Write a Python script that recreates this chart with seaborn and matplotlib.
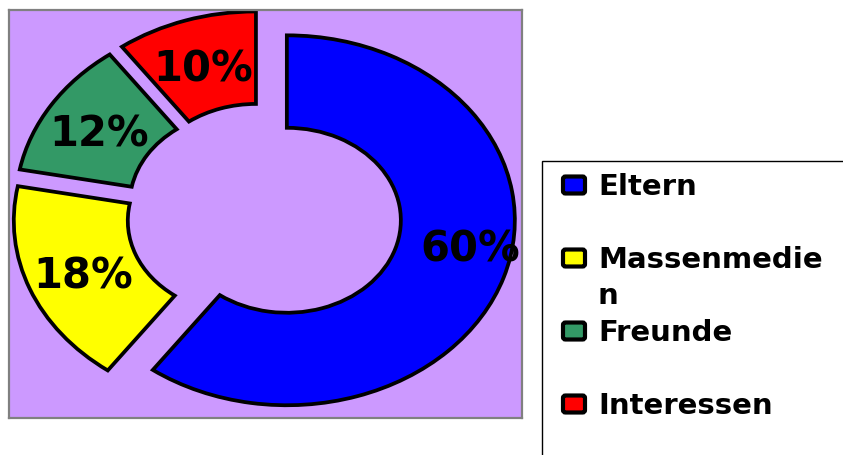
import textwrap

import matplotlib
matplotlib.use("Agg")
import matplotlib.pyplot as plt
from matplotlib.patches import FancyBboxPatch, Rectangle
from matplotlib.transforms import ScaledTranslation
import seaborn as sns

# Survey shares: where the information comes from
categories = ["Eltern", "Massenmedien", "Freunde", "Interessen"]
shares = [60, 18, 12, 10]
colors = ["#0000FF", "#FFFF00", "#339966", "#FF0000"]
explode = [0.11, 0.1, 0.1, 0.1]

sns.set_theme(style="white")
plt.rcParams["font.family"] = ["DejaVu Sans"]

W, H = 843, 455
fig = plt.figure(figsize=(W / 100, H / 100), dpi=100, facecolor="white")

# plot area (pixel box: x 9..522, y 10..418)
ax = fig.add_axes([9 / W, (H - 418) / H, 513 / W, 408 / H])
ax.set_facecolor("#CC99FF")

wedges, texts, autotexts = ax.pie(
    shares,
    colors=colors,
    explode=explode,
    startangle=90,
    counterclock=False,
    autopct=lambda p: f"{p:.0f}%",
    pctdistance=0.75,
    wedgeprops=dict(width=0.5, edgecolor="black", linewidth=2.7),
    textprops=dict(fontsize=30, fontweight="bold", color="black"),
    frame=True,
)
# the largest share's label sits further out along the ring
autotexts[0].set_position((0.91, -0.165))
# centre the labels on the digits rather than on the full line box
nudge = ScaledTranslation(0, -5 / 100, fig.dpi_scale_trans)
for t in autotexts:
    t.set_ha("center")
    t.set_va("center")
    t.set_transform(t.get_transform() + nudge)

ax.set_aspect("auto")
ax.set_xlim(-1.114, 1.136)
ax.set_ylim(-1.103, 1.103)
ax.set_xticks([])
ax.set_yticks([])
for sp in ax.spines.values():
    sp.set_visible(True)
    sp.set_color("#808080")
    sp.set_linewidth(1.6)

# legend drawn in a pixel-space overlay
lax = fig.add_axes([0, 0, 1, 1], zorder=5)
lax.set_xlim(0, W)
lax.set_ylim(H, 0)
lax.axis("off")
lax.patch.set_alpha(0)

lax.add_patch(Rectangle((542, 161), 400, 400, facecolor="white",
                        edgecolor="black", linewidth=1.0, clip_on=False))

first_baseline = 195
row_step = 73
wrap_step = 36
for i, (name, col) in enumerate(zip(categories, colors)):
    base = first_baseline + i * row_step
    lax.add_patch(FancyBboxPatch((563, base - 18.5), 22, 17,
                                 boxstyle="round,pad=0,rounding_size=2.5",
                                 facecolor=col, edgecolor="black",
                                 linewidth=3.0))
    for j, line in enumerate(textwrap.wrap(name, 11)):
        lax.text(598, base + j * wrap_step, line, fontsize=21,
                 fontweight="bold", ha="left", va="baseline",
                 color="black")

fig.savefig("out.png", dpi=100, facecolor="white")
